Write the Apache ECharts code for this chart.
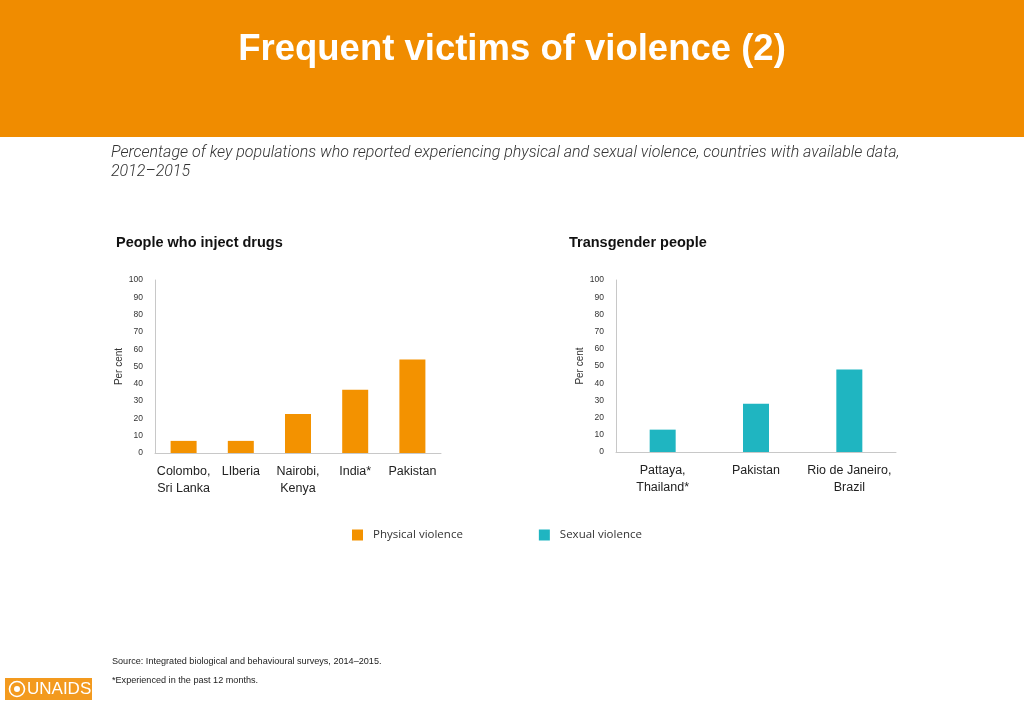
<!DOCTYPE html>
<html>
<head>
<meta charset="utf-8">
<script src="https://cdn.jsdelivr.net/npm/echarts@6/dist/echarts.min.js"></script>
<style>
html,body{margin:0;padding:0;background:#fff;}
#c{width:1024px;height:709px;}
</style>
</head>
<body>
<div id="c"></div>
<script>
const pwidCategories = ['Colombo,\nSri Lanka', 'LIberia', 'Nairobi,\nKenya', 'India*', 'Pakistan'];
const physicalViolence = [7, 7, 22.5, 36.5, 54];
const tgCategories = ['Pattaya,\nThailand*', 'Pakistan', 'Rio de Janeiro,\nBrazil'];
const sexualViolence = [13, 28, 48];
const yTicks = [0, 10, 20, 30, 40, 50, 60, 70, 80, 90, 100];

const ORANGE = '#F39200';
const TEAL = '#1FB5C1';
const HEADER = '#F08C00';
const FONT = '"Liberation Sans", Arial, sans-serif';

const chart = echarts.init(document.getElementById('c'));

function yAxisCfg(gridIndex) {
  return {
    type: 'value', gridIndex: gridIndex,
    min: yTicks[0], max: yTicks[yTicks.length - 1], interval: yTicks[1] - yTicks[0],
    name: 'Per cent', nameLocation: 'middle', nameRotate: 90, nameGap: 31,
    nameTextStyle: { fontFamily: FONT, fontSize: 10, color: '#333' },
    axisLine: { show: true, lineStyle: { color: '#c8c8c8', width: 1 } },
    axisTick: { show: false },
    splitLine: { show: false },
    axisLabel: { fontFamily: FONT, fontSize: 8.5, color: '#333', margin: 12 }
  };
}
function xAxisCfg(gridIndex, data) {
  return {
    type: 'category', gridIndex: gridIndex, data: data,
    axisLine: { show: true, lineStyle: { color: '#c8c8c8', width: 1 } },
    axisTick: { show: false },
    axisLabel: { fontFamily: FONT, fontSize: 12.5, color: '#222', margin: 10, lineHeight: 17, interval: 0 }
  };
}

chart.setOption({
  animation: false,
  backgroundColor: '#fff',
  graphic: [
    { type: 'rect', left: 0, top: 0, shape: { width: 1024, height: 137 }, style: { fill: HEADER }, z: -1 },
    { type: 'group', left: 5, top: 678, children: [
      { type: 'rect', shape: { x: 0, y: 0, width: 87, height: 22 }, style: { fill: '#F39A1E' } },
      { type: 'circle', shape: { cx: 12, cy: 11, r: 7.5 }, style: { fill: 'none', stroke: '#fff', lineWidth: 1.6 } },
      { type: 'circle', shape: { cx: 12, cy: 11, r: 3 }, style: { fill: '#fff' } },
      { type: 'text', style: { x: 22, y: 11, text: 'UNAIDS', fill: '#fff', font: '17px ' + FONT, verticalAlign: 'middle' } }
    ]}
  ],
  title: [
    { text: 'Frequent victims of violence (2)', left: 'center', top: 31, padding: 0,
      textStyle: { fontFamily: FONT, fontSize: 36.5, fontWeight: 'bold', color: '#fff' } },
    { text: 'Percentage of key populations who reported experiencing physical and sexual violence, countries with available data,\n2012\u20132015',
      left: 111, top: 143, padding: 0,
      textStyle: { fontFamily: 'Roboto, sans-serif', fontStyle: 'italic', fontWeight: 300, fontSize: 16, color: '#333', lineHeight: 19 } },
    { text: 'People who inject drugs', left: 116, top: 235, padding: 0,
      textStyle: { fontFamily: FONT, fontSize: 14.5, fontWeight: 'bold', color: '#111' } },
    { text: 'Transgender people', left: 569, top: 235, padding: 0,
      textStyle: { fontFamily: FONT, fontSize: 14.5, fontWeight: 'bold', color: '#111' } },
    { text: 'Source: Integrated biological and behavioural surveys, 2014\u20132015.', left: 112, top: 657, padding: 0,
      textStyle: { fontFamily: FONT, fontSize: 9.1, fontWeight: 'normal', color: '#222' } },
    { text: '*Experienced in the past 12 months.', left: 112, top: 676, padding: 0,
      textStyle: { fontFamily: FONT, fontSize: 9.1, fontWeight: 'normal', color: '#222' } }
  ],
  legend: {
    left: 352, top: 529, padding: 0, itemWidth: 11, itemHeight: 11, itemGap: 76, icon: 'rect',
    data: ['Physical violence', 'Sexual violence'],
    textStyle: { fontFamily: '"Open Sans", sans-serif', fontSize: 11.5, color: '#333', padding: [0, 0, 0, 5] }
  },
  grid: [
    { left: 155, top: 280, width: 286, height: 173 },
    { left: 616, top: 280, width: 280, height: 172 }
  ],
  xAxis: [xAxisCfg(0, pwidCategories), xAxisCfg(1, tgCategories)],
  yAxis: [yAxisCfg(0), yAxisCfg(1)],
  series: [
    { name: 'Physical violence', type: 'bar', xAxisIndex: 0, yAxisIndex: 0, data: physicalViolence,
      barWidth: 26, itemStyle: { color: ORANGE } },
    { name: 'Sexual violence', type: 'bar', xAxisIndex: 1, yAxisIndex: 1, data: sexualViolence,
      barWidth: 26, itemStyle: { color: TEAL } }
  ]
});
</script>
</body>
</html>
